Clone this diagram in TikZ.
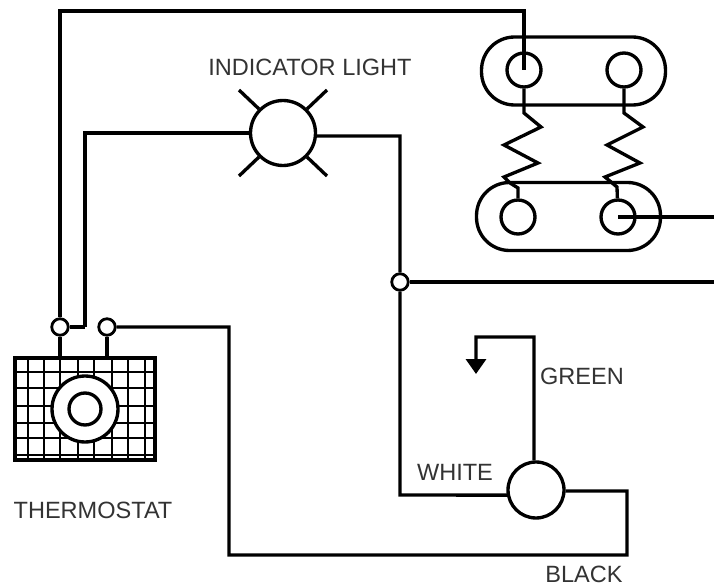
\documentclass[tikz,border=0pt]{standalone}
\usepackage{fontspec}
\setmainfont{Liberation Sans}
\usetikzlibrary{arrows.meta}

\begin{document}
\begin{tikzpicture}[x=0.02cm,y=-0.02cm,line width=1.9pt,
  term/.style={draw=black,circle,inner sep=0pt,minimum size=0.68cm},
  joint/.style={draw=black,circle,inner sep=0pt,minimum size=0.33cm,line width=1.6pt},
  plate/.style={draw=black,rectangle,rounded corners=0.66cm,minimum width=3.68cm,minimum height=1.36cm},
  caption/.style={inner sep=0pt,text=black!80,font=\fontsize{13.4}{16}\selectfont}]
\useasboundingbox (0,0) rectangle (714,588);
\fill [white] (0,0) rectangle (714,588);

\foreach \x in {28,44,60,78,94,112,128,145} \draw [line width=1.4pt] (\x,358) -- (\x,460);
\foreach \y in {372,388,406,423,438,455} \draw [line width=1.4pt] (15,\y) -- (155,\y);
\node (stat) [draw=black,rectangle,line width=2.2pt,inner sep=0pt,minimum width=2.8cm,minimum height=2.04cm] at (85,409) {};
\node (dial) [draw=black,fill=white,circle,inner sep=0pt,minimum size=1.32cm] at (85,409) {};
\node (hub) [draw=black,circle,inner sep=0pt,minimum size=0.64cm] at (85,409) {};

\node (tj1) [joint] at (60,327) {};
\node (tj2) [joint] at (107,327) {};
\node (split) [joint] at (400,282) {};
\node (light) [draw=black,circle,inner sep=0pt,minimum size=1.3cm] at (283,133) {};
\node (motor) [draw=black,circle,inner sep=0pt,minimum size=1.12cm] at (536,490) {};

\node (top) [plate] at (573.5,71) {};
\node (bot) [plate] at (568.5,216.5) {};
\node (t1) [term] at (524,70) {};
\node (t2) [term] at (624,70) {};
\node (b1) [term] at (518,217) {};
\node (b2) [term] at (618,217) {};

\coordinate (c1) at (60,11);
\coordinate (c2) at (524,11);
\coordinate (c3) at (85,133);
\coordinate (c4) at (400,136);
\coordinate (c5) at (400,495);
\coordinate (c6) at (229,327);
\coordinate (c7) at (229,555);
\coordinate (c8) at (627,555);
\coordinate (c9) at (627,491);
\coordinate (c10) at (534,337);
\coordinate (c11) at (476,337);
\coordinate (gnd) at (476,374);
\coordinate (out1) at (714,217);
\coordinate (out2) at (714,282);
\coordinate (r1) at (239,90);
\coordinate (r2) at (327,90);
\coordinate (r3) at (239,176);
\coordinate (r4) at (327,176);

\draw (tj1) -- (c1) -- (c2) -- (t1.center);
\draw (tj2 -| c3) -- (c3) -- (light.west);
\draw (tj1.east) -- (tj2 -| c3);
\draw (light.-5) -- (c4) -- (split);
\draw (split) -- (c5) -- (motor.190);
\draw (split) -- (out2);
\draw (tj2) -- (c6) -- (c7) -- (c8) -- (c9) -- (motor.-2);
\draw [-{Triangle[length=0.3cm,width=0.4cm]}] (motor.94) -- (c10) -- (c11) -- (gnd);
\draw (b2.center) -- (out1);
\draw (tj1) -- (tj1 |- stat.north);
\draw (tj2) -- (tj2 |- stat.north);

\draw (light.135) -- (r1);
\draw (light.45) -- (r2);
\draw (light.225) -- (r3);
\draw (light.-45) -- (r4);

\draw (t1) -- (524,113) -- (541,127) -- (504,145) -- (538,163) -- (504,177) -- (510,183) -- (518,188) -- (b1);
\draw (t2) -- (624,113) -- (643,127) -- (607,145) -- (640,163) -- (605,177) -- (617,187) -- (b2);

\node (lblight) [caption] at (310,67) {INDICATOR LIGHT};
\node (lbgreen) [caption] at (582,376) {GREEN};
\node (lbwhite) [caption] at (455,472) {WHITE};
\node (lbblack) [caption] at (584,574) {BLACK};
\node (lbstat) [caption] at (93,510) {THERMOSTAT};
\end{tikzpicture}
\end{document}
